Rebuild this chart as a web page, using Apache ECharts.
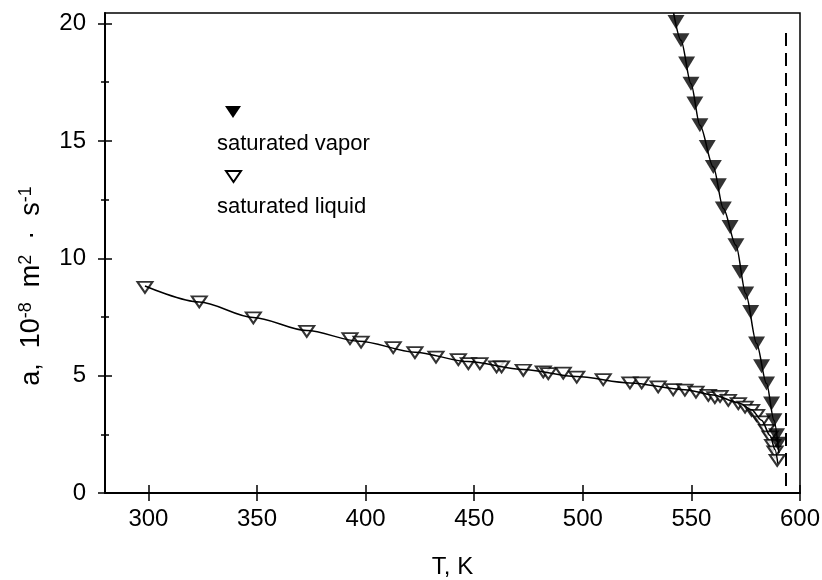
<!DOCTYPE html>
<html>
<head>
<meta charset="utf-8">
<script src="https://cdn.jsdelivr.net/npm/echarts@6/dist/echarts.min.js"></script>
<style>
html, body { margin: 0; padding: 0; background: #fff; }
#chart { width: 822px; height: 580px; }
</style>
</head>
<body>
<div id="chart"></div>
<script>
// saturated vapor points (T, K / a, 1e-8 m2/s)
var vaporT = [542.9, 545.2, 547.8, 549.8, 551.6, 553.9, 557.3, 560.1, 562.4, 564.7, 567.8, 570.5,
	572.4, 575.0, 577.3, 580.0, 582.3, 584.6, 586.9, 588.0, 589.2, 590.0];
var vaporA = [20.07, 19.29, 18.30, 17.44, 16.59, 15.67, 14.74, 13.89, 13.11, 12.12, 11.33, 10.55,
	9.42, 8.50, 7.71, 6.37, 5.40, 4.66, 3.81, 3.10, 2.46, 2.10];

// saturated liquid points
var liquidT = [298.4, 323.4, 348.3, 372.9, 392.8, 397.9, 412.7, 422.7, 432.4, 442.7, 447.3, 452.6,
	460.3, 462.6, 472.6, 481.8, 484.1, 491.0, 497.2, 509.4, 521.7, 527.1, 534.7, 541.6, 547.0,
	552.1, 557.8, 560.8, 563.2, 567.0, 571.6, 574.7, 577.7, 580.0, 582.3, 584.6, 586.2, 587.4,
	588.5, 589.5];
var liquidA = [8.76, 8.14, 7.46, 6.89, 6.58, 6.43, 6.19, 5.98, 5.79, 5.68, 5.51, 5.51,
	5.37, 5.37, 5.23, 5.16, 5.09, 5.11, 4.94, 4.83, 4.69, 4.69, 4.52, 4.40, 4.38,
	4.30, 4.16, 4.06, 4.12, 3.95, 3.81, 3.66, 3.52, 3.31, 3.03, 2.67, 2.39, 2.03,
	1.75, 1.39];

// fitted curves
var vaporFitT = [541.8, 545.2, 549.8, 553.9, 560.1, 564.7, 570.5, 575.0, 580.0, 584.6, 588.0, 590.3];
var vaporFitA = [20.45, 19.29, 17.44, 15.67, 13.89, 12.12, 10.55, 8.50, 6.37, 4.66, 3.10, 1.70];
var liquidFitT = [298.4, 323.4, 348.3, 372.9, 397.0, 422.7, 447.0, 472.6, 497.0, 521.7, 547.0,
	560.0, 571.6, 577.7, 582.3, 586.2, 588.5, 589.8];
var liquidFitA = [8.82, 8.14, 7.48, 6.92, 6.47, 6.00, 5.60, 5.26, 4.96, 4.69, 4.40,
	4.18, 3.85, 3.55, 3.10, 2.45, 1.85, 1.25];

var criticalT = 593.4;

var xTicks = [300, 350, 400, 450, 500, 550, 600];
var yTicks = [0, 5, 10, 15, 20];
var yMinorTicks = [2.5, 7.5, 12.5, 17.5];

function pairs(xs, ys)
{
	var out = [];
	for (var i = 0; i < xs.length; i++) {
		out.push([xs[i], ys[i]]);
	}
	return out;
}

var font = 'Liberation Sans, Arial, sans-serif';

// main x axis: line, labels, name, no ticks
var xMain = {
	type: 'value', min: 280, max: 600, position: 'bottom',
	axisLine: { show: true, onZero: false, lineStyle: { color: '#000', width: 2 } },
	axisTick: { show: false },
	axisLabel: { customValues: xTicks, color: '#000', fontSize: 24, fontFamily: font, margin: 14 },
	splitLine: { show: false },
	name: 'T, K',
	nameLocation: 'middle',
	nameGap: 62,
	nameTextStyle: { color: '#000', fontSize: 24, fontFamily: font }
};

// tick-only axes, shifted into the plot so the ticks cross the axis line
function xTickAxis(len)
{
	return {
		type: 'value', min: 280, max: 600, position: 'bottom', offset: -len,
		axisLine: { show: false, onZero: false },
		axisTick: { show: true, length: 2 * len, customValues: xTicks, lineStyle: { color: '#000', width: 1.5 } },
		axisLabel: { show: false },
		splitLine: { show: false }
	};
}

function yTickAxis(ticks, len)
{
	return {
		type: 'value', min: 0, max: 20.45, position: 'left', offset: -len,
		axisLine: { show: false, onZero: false },
		axisTick: { show: true, length: 2 * len, customValues: ticks, lineStyle: { color: '#000', width: 1.5 } },
		axisLabel: { show: false },
		splitLine: { show: false }
	};
}

var yMain = {
	type: 'value', min: 0, max: 20.45, position: 'left',
	axisLine: { show: true, onZero: false, lineStyle: { color: '#000', width: 2 } },
	axisTick: { show: false },
	axisLabel: { customValues: yTicks, color: '#000', fontSize: 24, fontFamily: font, margin: 19 },
	splitLine: { show: false },
	name: 'a,  10{sup|-8}  m{sup|2}  ·  s{sup|-1}',
	nameLocation: 'middle',
	nameGap: 58,
	nameTextStyle: {
		color: '#000', fontSize: 27, fontFamily: font, padding: [0, 66, 0, 0],
		rich: { sup: { fontSize: 18, fontFamily: font, color: '#000', verticalAlign: 'top', padding: [0, 0, 12, 0] } }
	}
};

var chart = echarts.init(document.getElementById('chart'));
var option = {
	animation: false,
	backgroundColor: '#fff',
	grid: {
		left: 105, right: 22, top: 13, bottom: 87,
		outerBoundsMode: 'none',
		show: true, borderColor: '#000', borderWidth: 1.5
	},
	xAxis: [xMain, xTickAxis(8)],
	yAxis: [yMain, yTickAxis(yTicks, 7), yTickAxis(yMinorTicks, 4)],
	graphic: [
		{ type: 'polygon', shape: { points: [[225, 106], [241, 106], [233, 118]] }, style: { fill: '#000' } },
		{ type: 'text', left: 217, top: 133, style: { text: 'saturated vapor', fill: '#000', fontSize: 22, fontFamily: font } },
		{ type: 'polygon', shape: { points: [[226, 171], [241, 171], [233.5, 182]] }, style: { fill: '#fff', stroke: '#000', lineWidth: 2 } },
		{ type: 'text', left: 217, top: 196, style: { text: 'saturated liquid', fill: '#000', fontSize: 22, fontFamily: font } }
	],
	series: [
		{
			name: 'vapor fit', type: 'line', smooth: 0.3, smoothMonotone: 'x', symbol: 'none',
			data: pairs(vaporFitT, vaporFitA),
			lineStyle: { color: '#000', width: 1.5 },
			markLine: {
				silent: true, symbol: 'none', label: { show: false },
				lineStyle: { color: '#000', width: 2, type: [13, 7] },
				data: [[{ coord: [criticalT, 0.3] }, { coord: [criticalT, 19.9] }]]
			}
		},
		{
			name: 'liquid fit', type: 'line', smooth: 0.3, smoothMonotone: 'x', symbol: 'none',
			data: pairs(liquidFitT, liquidFitA),
			lineStyle: { color: '#000', width: 1.5 }
		},
		{
			name: 'saturated liquid', type: 'scatter', symbol: 'triangle', symbolRotate: 180, symbolSize: [15, 11],
			data: pairs(liquidT, liquidA),
			itemStyle: { color: '#fff', borderColor: '#000', borderWidth: 2 }
		},
		{
			name: 'saturated vapor', type: 'scatter', symbol: 'triangle', symbolRotate: 180, symbolSize: [17, 14],
			data: pairs(vaporT, vaporA),
			itemStyle: { color: '#000' }
		}
	]
};
chart.setOption(option);
</script>
</body>
</html>
